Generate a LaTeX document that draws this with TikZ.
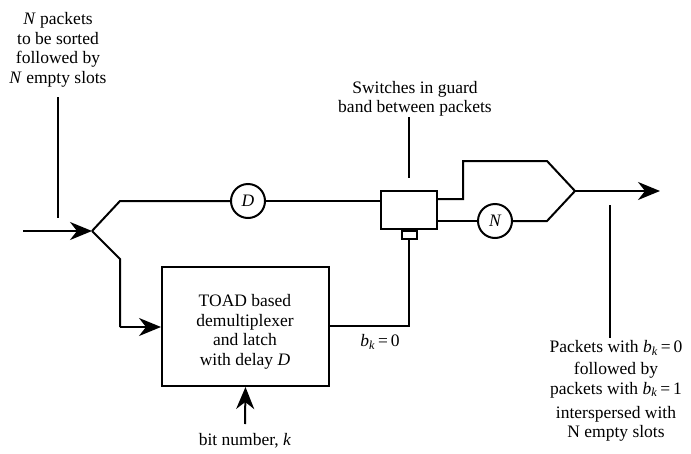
\documentclass[tikz,border=0pt]{standalone}
\usepackage{fontspec}
\setmainfont{Liberation Serif}
\usetikzlibrary{arrows.meta}
\newcommand{\bkeq}[1]{\textit{b}\textsubscript{\textit{k}}\,=\,#1}
\begin{document}
\begin{tikzpicture}[x=1pt,y=-1pt,
  line width=2pt,
  arr/.style={-{Stealth[length=22pt,width=18pt,inset=7pt]}},
  lbl/.style={align=center,font=\fontsize{17.5}{19.5}\selectfont,inner sep=0pt},
  circ/.style={circle,draw,minimum size=34pt,inner sep=0pt,font=\fontsize{17.5}{19}\selectfont\itshape},
  box/.style={draw,inner sep=0pt}]
\useasboundingbox (0,0) rectangle (691,453);
% nodes
\coordinate (in) at (23,231);
\coordinate (split) at (92,231);
\coordinate (up1) at (120,201);
\coordinate (dn1) at (120,259);
\coordinate (dn2) at (120,327);
\node[circ] (D) at (248,201) {D};
\node[box,minimum width=56pt,minimum height=38pt] (sw) at (409,210) {};
\node[box,minimum width=15pt,minimum height=8pt,anchor=north] (tab) at (sw.south) {};
\node[circ] (N) at (495,221) {N};
\node[box,minimum width=167pt,minimum height=119pt] (toad) at (245.5,326.5) {};
\node[lbl] (toadt) at (245,332) {TOAD based\\demultiplexer\\and latch\\with delay \textit{D}};
\coordinate (o1a) at (463,199);
\coordinate (o1b) at (463,161);
\coordinate (o1c) at (547,161);
\coordinate (o2c) at (547,221);
\coordinate (merge) at (575,191);
\coordinate (out) at (660,191);
\coordinate (corner) at (409,326);
% labels
\node[lbl] (intxt) at (58,50) {\textit{N} packets\\to be sorted\\followed by\\\textit{N} empty slots};
\coordinate (inl1) at (58,97);
\coordinate (inl2) at (58,218);
\node[lbl] (swtxt) at (415,99) {Switches in guard\\band between packets};
\coordinate (swl) at (409,117);
\node[lbl] (bk0) at (380,342) {\bkeq{0}};
\node[lbl] (bit) at (245,441) {bit number, \textit{k}};
\coordinate (bitb) at (245,424);
\node[lbl] (outtxt1) at (616,348) {Packets with \bkeq{0}};
\node[lbl] (outtxt2) at (616,380) {followed by\\packets with \bkeq{1}};
\node[lbl] (outtxt3) at (616,424) {interspersed with\\N empty slots};
\coordinate (outl1) at (610,205);
\coordinate (outl2) at (610,338);
% connectors
\draw[arr] (in) -- (split);
\draw (split) -- (up1) -- (D.west);
\draw (D.east) -- (sw.west |- D.east);
\draw (split) -- (dn1) -- (dn2);
\draw[arr] (dn2) -- (toad.west |- dn2);
\draw (toad.east |- corner) -- (corner) -- (tab.south);
\draw (sw.east |- o1a) -- (o1a) -- (o1b) -- (o1c) -- (merge);
\draw (sw.east |- N.west) -- (N.west);
\draw (N.east) -- (o2c) -- (merge);
\draw[arr] (merge) -- (out);
\draw[arr] (bitb) -- (toad.south);
\draw (inl1) -- (inl2);
\draw (swl) -- (sw.north |- 0,178);
\draw (outl1) -- (outl2);
\end{tikzpicture}
\end{document}
